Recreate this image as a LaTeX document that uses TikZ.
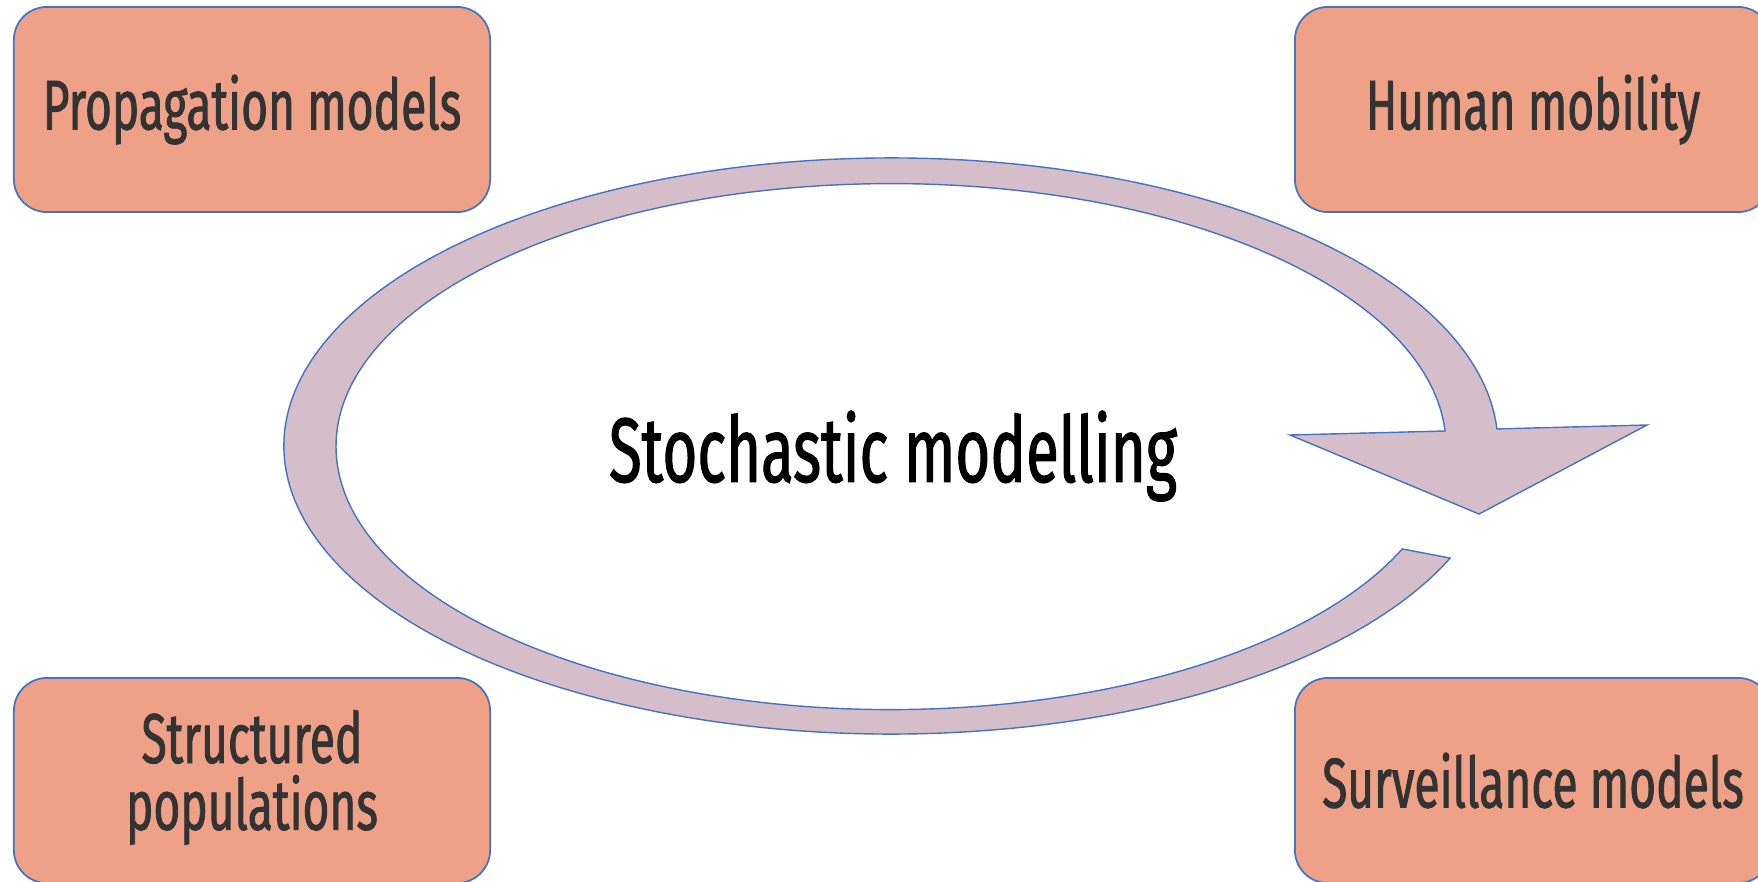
\documentclass[tikz,border=0pt]{standalone}
\usepackage{fontspec}
\usepackage{tikz}
\newfontfamily\boxfont{Fira Sans}[FakeStretch=0.655, FakeBold=1.2]
\definecolor{salmon}{RGB}{238,161,134}
\definecolor{mauve}{RGB}{213,190,202}
\definecolor{edgeblue}{RGB}{68,114,196}
\definecolor{textgray}{RGB}{51,51,51}

\begin{document}
\begin{tikzpicture}[
    x=0.01cm, y=0.01cm,
    box/.style={draw=edgeblue, line width=0.5pt, rounded corners=0.33cm, fill=salmon,
        minimum width=4.76cm, minimum height=2.05cm, inner sep=0pt, align=center,
        text=textgray, font=\boxfont\fontsize{20}{19}\selectfont},
    band/.style={draw=edgeblue, line width=0.4pt, fill=mauve}
    ]
    \useasboundingbox (0,0) rectangle (1758,881);
    % circular arrow round the centre
    \draw[band] (891,435) ++(-22.9:607 and 288)
        arc[start angle=-22.9, end angle=-356.6, x radius=607, y radius=288]
        -- (1647,456) -- (1479,367) -- (1290,446) -- (1445,450)
        arc[start angle=-356.6, end angle=-22.9, x radius=555, y radius=263]
        -- cycle;
    \node (centre) at (893,425) {\boxfont\fontsize{26}{30}\selectfont Stochastic modelling};
    \node[box] (prop)   at (252,771.5)  {Propagation models};
    \node[box] (human)  at (1533,771.5) {Human mobility};
    \node[box, text depth=6pt] (struct) at (252,100.5) {Structured\\populations};
    \node[box] (surv)   at (1533,100.5) {Surveillance models};
\end{tikzpicture}
\end{document}
